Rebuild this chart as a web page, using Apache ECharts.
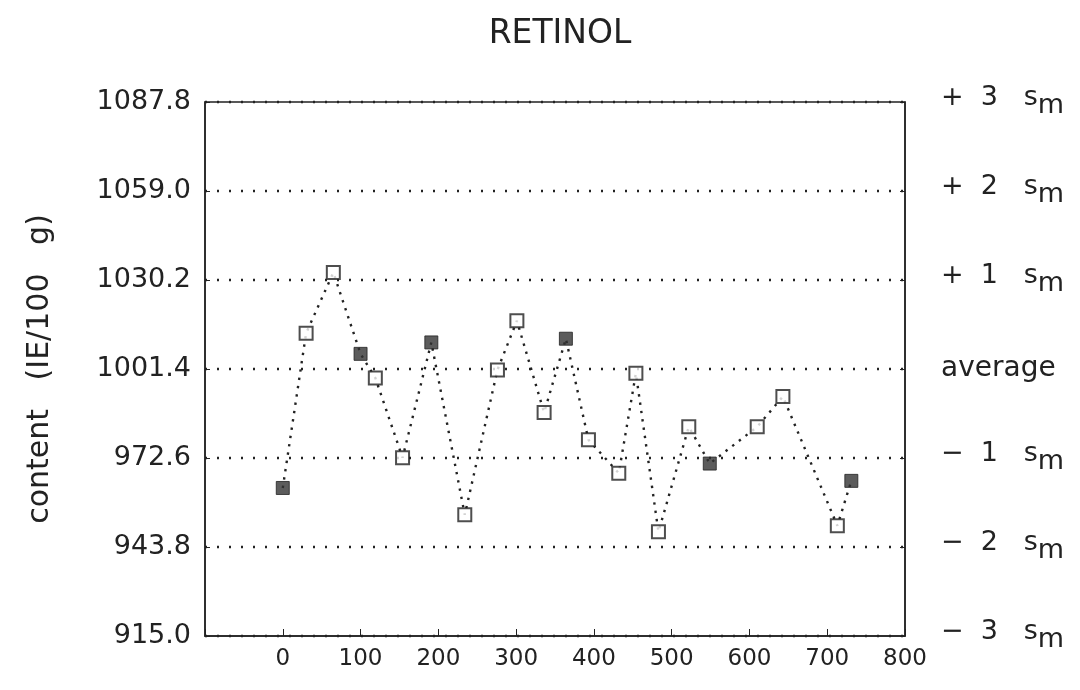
<!DOCTYPE html>
<html lang="en">
<head>
  <meta charset="UTF-8">
  <title>RETINOL</title>
  <script src="https://cdn.jsdelivr.net/npm/echarts@6/dist/echarts.min.js"></script>
  <style>
    body { margin: 0; background: #fff; }
    #chart { width: 1080px; height: 690px; }
  </style>
</head>
<body>
  <div id="chart"></div>
  <script>
    // sample position on the x axis and measured content (IE/100 g)
    const sampleX = [0, 30, 65, 100, 119, 154, 191, 234, 276, 301, 336, 364, 393, 432, 454, 483, 522, 549, 610, 643, 713, 731];
    const content = [962.9, 1013.0, 1032.6, 1006.3, 998.5, 972.7, 1010.0, 954.2, 1001.1, 1017.0, 987.3, 1011.2, 978.5, 967.7, 1000.0, 948.7, 982.7, 970.8, 982.7, 992.5, 950.7, 965.2];
    // 1 = filled square, 0 = open square
    const filled = [1, 0, 0, 1, 0, 0, 1, 0, 0, 0, 0, 1, 0, 0, 0, 0, 0, 1, 0, 0, 0, 1];

    const yTicks = [915.0, 943.8, 972.6, 1001.4, 1030.2, 1059.0, 1087.8];
    const sigmaLabels = ['−  3', '−  2', '−  1', 'average', '+  1', '+  2', '+  3'];
    const xTicks = [0, 100, 200, 300, 400, 500, 600, 700, 800];

    const allPts = sampleX.map((x, i) => [x, content[i]]);
    const openPts = allPts.filter((p, i) => !filled[i]);
    const filledPts = allPts.filter((p, i) => filled[i]);

    const ink = '#222';
    const font = 'DejaVu Sans';

    const chart = echarts.init(document.getElementById('chart'));

    const yCommon = {
      type: 'value',
      min: yTicks[0],
      max: yTicks[yTicks.length - 1],
      interval: 28.8,
      axisLine: { show: true, onZero: false, lineStyle: { color: ink, width: 1.5 } },
      axisTick: { show: true, inside: true, length: 5, lineStyle: { color: ink } }
    };

    chart.setOption({
      animation: false,
      title: {
        text: 'RETINOL',
        left: 555,
        top: 13,
        textAlign: 'center',
        textStyle: { fontFamily: font, fontSize: 33, fontWeight: 'normal', color: ink }
      },
      grid: {
        left: 205, right: 175, top: 102, bottom: 54,
        show: true, borderColor: ink, borderWidth: 1.5
      },
      xAxis: {
        type: 'value',
        min: -100,
        max: 800,
        interval: 100,
        axisLine: { show: true, onZero: false, lineStyle: { color: ink, width: 1.5 } },
        axisTick: { show: true, inside: true, length: 7, lineStyle: { color: ink } },
        splitLine: { show: false },
        axisLabel: {
          margin: 12,
          fontFamily: font, fontSize: 23, color: ink,
          formatter: v => (xTicks.indexOf(v) >= 0 ? String(v) : '')
        }
      },
      yAxis: [
        Object.assign({}, yCommon, {
          position: 'left',
          name: 'content   (IE/100   g)',
          nameLocation: 'middle',
          nameGap: 150,
          nameTextStyle: { fontFamily: font, fontSize: 30, color: ink },
          axisLabel: {
            margin: 14, fontFamily: font, fontSize: 27, color: ink,
            formatter: v => v.toFixed(1)
          },
          splitLine: {
            show: true,
            lineStyle: { color: ink, type: [2, 10], width: 2.4 }
          }
        }),
        Object.assign({}, yCommon, {
          position: 'right',
          splitLine: { show: false },
          axisLabel: {
            margin: 36, fontFamily: font, fontSize: 28, color: ink,
            formatter: (v, i) => {
              const t = sigmaLabels[i];
              return t === 'average' ? t : '{t|' + t + '   s}{m|m}';
            },
            rich: {
              t: { fontFamily: font, fontSize: 27, color: ink, padding: [0, 0, 8, 0] },
              m: { fontFamily: font, fontSize: 27, color: ink, padding: [8, 0, 0, 0] }
            }
          }
        })
      ],
      series: [
        {
          type: 'line',
          data: allPts,
          symbol: 'none',
          z: 1,
          lineStyle: { color: ink, width: 2.4, type: [2.4, 6] }
        },
        {
          type: 'scatter',
          data: openPts,
          symbol: 'rect',
          symbolSize: 13,
          z: 3,
          itemStyle: { color: '#fff', borderColor: ink, borderWidth: 2 }
        },
        {
          type: 'scatter',
          data: filledPts,
          symbol: 'rect',
          symbolSize: 13,
          z: 3,
          itemStyle: { color: '#333', borderColor: ink, borderWidth: 1 }
        }
      ]
    });
  </script>
</body>
</html>
